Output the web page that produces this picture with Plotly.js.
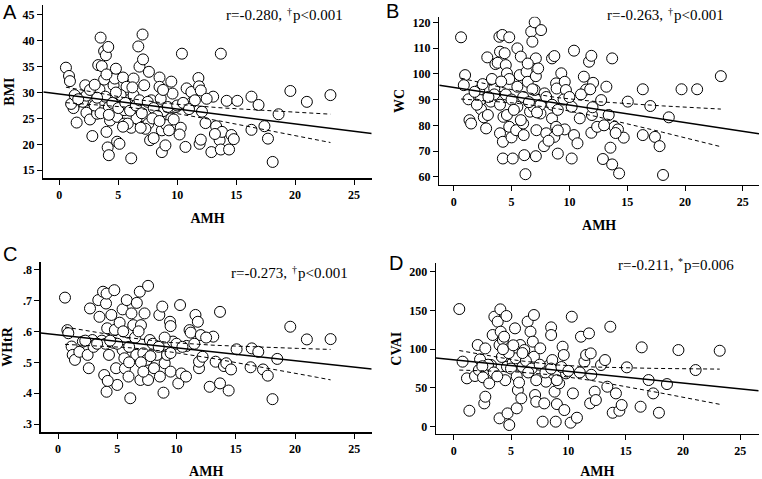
<!DOCTYPE html>
<html>
<head>
<meta charset="utf-8">
<script src="https://cdn.plot.ly/plotly-3.0.1.min.js"></script>
<style>html,body{margin:0;padding:0;background:#fff;}#chart{width:762px;height:479px;}</style>
</head>
<body>
<div id="chart"></div>
<script>
// ---------------- data ----------------
const amhA = [0.56,0.82,0.9,1.24,1.2,1.47,1.84,2.2,2.3,2.4,2.6,2.8,2.9,3.2,3.4,3.3,3.5,3.6,3.8,3.8,3.95,4.0,4.15,4.1,4.2,4.3,4.2,3.9,4.6,4.7,4.8,4.9,5.1,4.9,5.4,5.5,5.5,5.7,5.8,6.1,6.1,6.3,6.3,6.55,6.7,6.8,7.06,7.1,7.2,7.1,7.6,7.55,7.7,7.8,8.2,8.5,8.5,8.6,8.7,8.7,9.0,8.8,9.5,9.6,9.5,9.1,9.9,10.3,10.2,10.4,10.7,10.8,11.2,11.3,11.8,11.85,11.9,12.0,12.0,12.1,12.4,12.9,13.05,13.3,13.6,13.7,13.7,13.8,14.2,14.4,14.6,15.1,16.3,16.3,16.9,17.4,17.7,18.1,18.6,19.6,21.0,23.0,
  1.0,2.0,3.0,3.5,4.5,5.0,5.2,5.6,6.0,6.5,6.8,7.0,7.3,7.5,8.0,8.3,8.8,9.2,9.7,10.0,10.5,11.5,4.8,6.2,5.8,7.9,9.3,6.9,8.5,3.2,4.2,5.4,8.0,12.5,11.0,
  1.3,2.3,1.6,2.6,3.0,4.0,13.2,14.8];
const bmi = [34.8,33.2,32.2,27.5,27.0,24.2,28.8,31.4,26.1,28.5,24.8,21.6,29.2,25.9,30.6,35.3,40.6,35.1,32.5,38.0,37.2,22.4,38.8,19.4,17.9,24.6,27.2,29.2,31.4,32.7,34.6,20.5,20.1,25.3,32.9,26.6,24.0,31.1,28.5,17.3,23.2,32.7,29.5,25.0,38.9,35.0,41.2,36.4,31.4,23.4,34.0,24.0,20.8,28.5,26.0,32.9,31.1,28.8,22.7,18.5,19.8,26.4,32.1,29.8,25.0,23.7,27.2,23.2,21.9,37.5,19.5,30.8,30.1,28.2,32.8,31.2,20.1,20.9,30.4,26.3,24.1,18.5,29.2,23.5,20.8,37.5,19.0,22.4,28.4,19.0,21.8,28.4,22.8,29.2,27.6,23.5,21.1,16.6,25.8,30.3,28.2,29.5,
  27.8,28.2,27.5,26.0,28.0,27.0,29.5,28.0,26.5,27.5,28.5,26.0,23.0,28.2,27.0,25.5,30.5,27.2,24.8,27.5,28.0,28.5,30.0,31.0,24.0,25.0,22.7,23.2,24.5,29.0,25.7,23.4,21.2,28.8,26.8,
  29.5,29.4,28.7,30.5,31.5,33.5,22.0,21.0];

const amhB = [0.63,0.98,0.87,1.27,1.36,1.5,2.2,2.3,2.36,2.6,2.8,2.9,2.95,3.2,3.5,3.6,3.8,3.95,3.9,4.0,4.2,4.4,4.5,4.6,4.0,4.25,4.25,4.3,4.6,4.8,4.8,5.0,5.1,5.4,5.5,5.5,5.7,5.8,6.0,6.05,6.1,6.2,6.3,6.4,6.6,6.7,6.8,7.0,7.1,7.1,7.0,6.9,7.15,7.1,7.3,7.55,7.5,7.8,7.85,8.0,8.5,8.5,8.7,8.85,8.9,9.0,8.85,8.7,9.3,9.6,9.7,9.6,10.2,10.2,10.4,10.4,10.7,10.9,11.25,11.45,11.7,11.9,12.05,11.9,11.95,12.4,12.75,12.9,13.2,13.4,13.55,13.7,13.7,13.9,14.2,14.3,14.7,15.05,16.35,16.35,17.0,17.4,17.8,18.1,18.6,19.7,21.05,23.1,
  4.5,5.0,5.5,6.0,6.5,7.5,8.0,8.5,9.0,9.5,3.5,4.0,5.2,6.8,7.2,10.0,11.0,12.0,3.0,2.0,5.8,6.4,4.8,9.0,8.2,11.8,
  1.8,2.5,3.3,4.1,13.0,14.0];
const wc = [114.2,99.5,95.6,90.1,82.0,80.7,93.7,89.8,86.2,83.1,78.8,106.4,84.0,89.2,94.3,103.8,104.3,114.4,91.1,108.6,115.1,108.0,103.4,100.2,76.9,73.6,67.1,83.3,84.0,114.2,79.4,75.3,67.1,78.1,109.9,87.2,99.5,106.7,80.7,76.2,68.4,61.0,100.8,96.9,85.3,116.4,112.5,120.0,106.0,99.1,93.7,87.2,78.1,68.0,102.1,117.0,84.6,71.9,92.4,76.9,82.7,106.0,106.9,96.3,94.3,69.0,79.4,75.5,100.2,96.9,93.7,78.4,87.2,67.1,109.0,76.2,73.0,82.7,98.9,93.9,104.7,107.0,96.5,77.1,84.0,79.4,89.8,66.9,95.0,84.0,71.3,106.0,64.8,79.4,78.4,61.3,75.2,89.2,94.0,76.2,87.5,75.5,71.9,60.7,83.1,94.0,94.0,99.1,
  92,90,95,91,89,88,91,88,86,90,92,88,86,94,85,91,92,87,91,88,82,104,98,78,74,94,
  93,96,98,97,80,77];

const amhC = [0.59,0.79,0.87,1.15,1.24,1.43,1.8,2.1,2.5,2.6,2.7,2.9,3.1,3.4,3.5,3.7,3.8,3.9,4.05,4.1,4.1,4.15,4.3,4.5,4.7,4.75,4.9,5.0,4.8,5.2,5.45,5.45,5.6,5.65,5.8,5.9,5.95,6.1,6.2,6.35,6.6,6.65,6.9,7.0,6.95,7.2,7.3,7.35,7.5,7.6,7.6,7.75,8.1,8.35,8.55,8.6,8.8,8.9,9.0,9.2,9.45,9.5,9.5,9.7,10.15,10.3,10.4,10.8,10.85,11.1,11.2,11.6,11.8,11.9,11.9,12.05,12.2,12.8,13.1,13.3,13.67,13.67,14.0,14.2,14.4,14.6,15.07,16.25,16.35,16.9,17.3,17.7,18.1,18.5,19.6,21.0,23.0,
  4.0,5.0,6.0,6.5,7.0,8.0,8.5,9.0,9.5,10.0,3.0,5.5,6.8,7.8,11.5,12.5,4.4,3.3,2.3,10.5,7.2,6.0,4.2];
const whtr = [0.709,0.604,0.594,0.551,0.524,0.508,0.534,0.567,0.524,0.481,0.674,0.572,0.556,0.701,0.647,0.57,0.728,0.459,0.69,0.405,0.722,0.61,0.524,0.653,0.563,0.733,0.481,0.427,0.605,0.628,0.54,0.671,0.513,0.48,0.701,0.596,0.454,0.384,0.658,0.62,0.524,0.692,0.728,0.62,0.443,0.529,0.658,0.486,0.508,0.747,0.443,0.572,0.481,0.524,0.653,0.454,0.68,0.402,0.497,0.524,0.631,0.617,0.47,0.567,0.432,0.685,0.464,0.454,0.553,0.604,0.596,0.653,0.631,0.481,0.502,0.588,0.518,0.421,0.583,0.502,0.663,0.432,0.488,0.497,0.409,0.477,0.542,0.484,0.545,0.534,0.477,0.457,0.381,0.511,0.615,0.574,0.575,
  0.56,0.56,0.55,0.58,0.50,0.56,0.55,0.58,0.53,0.56,0.55,0.60,0.60,0.52,0.56,0.58,0.57,0.56,0.57,0.55,0.47,0.50,0.44];

const amhD = [0.49,0.78,1.16,1.37,1.86,2.1,2.2,2.3,2.56,2.67,2.76,2.76,3.1,3.25,3.4,3.55,3.84,4.0,4.0,4.07,4.1,4.3,4.4,4.6,4.65,4.7,4.85,5.15,5.35,5.4,5.5,5.6,5.8,5.9,6.0,6.16,6.45,6.7,6.9,7.0,7.0,7.1,7.2,7.3,7.55,7.76,7.9,8.05,8.35,8.5,8.5,8.6,8.8,8.9,9.0,9.2,9.5,9.6,9.65,9.8,10.2,10.3,10.4,10.75,11.1,11.4,11.55,11.8,11.9,11.95,12.3,12.4,12.85,13.2,13.4,13.66,13.87,14.15,14.45,14.65,15.1,16.3,16.4,17.0,17.4,17.9,18.6,19.6,21.1,23.2,
  3.0,3.5,4.2,4.8,5.0,5.5,6.3,6.8,7.5,8.0,8.5,9.0,9.4,10.0,4.5,5.7,6.5,7.2,3.8,2.5,11.0,12.0,4.3,5.2,6.0];
const cvai = [151.8,83.9,62.4,20.6,65.4,105.4,73.1,86.9,63.7,30.1,38.7,101.0,55.9,79.6,118.3,141.9,135.5,105.4,10.8,151.4,122.6,111.8,116.1,142.8,77.4,17.2,2.2,82.6,126.9,88.2,23.7,47.3,105.4,36.6,77.4,98.9,135.5,122.6,109.7,144.1,90.3,40.9,32.3,71.0,101.1,6.5,30.1,58.1,79.6,128.2,118.3,86.0,45.2,6.5,29.2,55.9,103.2,92.5,21.5,68.8,5.2,141.9,43.0,11.6,116.1,83.9,92.5,120.4,30.1,94.6,45.2,34.4,79.6,86.0,51.6,129.0,18.0,43.0,20.6,28.0,76.6,25.8,102.4,60.2,43.0,18.0,55.0,98.9,73.1,98.0,
  80,70,90,95,75,65,85,75,80,70,75,60,77,72,60,57,70,60,65,78,70,67,100,105,95];

const xTicks = [0,5,10,15,20,25];
const ticksA = [15,20,25,30,35,40,45];
const ticksB = [60,70,80,90,100,110,120];
const ticksC = [0.3,0.4,0.5,0.6,0.7,0.8];
const ticksCText = ['.3','.4','.5','.6','.7','.8'];
const ticksD = [0,50,100,150,200];
const xTitle = 'AMH';
const yTitles = ['BMI','WC','WHtR','CVAI'];
const panelLetters = ['A','B','C','D'];
const statR = ['r=-0.280,','r=-0.263,','r=-0.273,','r=-0.211,'];
const statMark = ['†','†','†','*'];
const statP = ['p<0.001','p<0.001','p<0.001','p=0.006'];

// ---------------- helpers ----------------
function fit(x, y) {
  const n = x.length;
  const mx = x.reduce((a,b)=>a+b,0)/n, my = y.reduce((a,b)=>a+b,0)/n;
  let sxx=0, sxy=0;
  for (let i=0;i<n;i++){ sxx+=(x[i]-mx)**2; sxy+=(x[i]-mx)*(y[i]-my); }
  const b = sxy/sxx, a = my - b*mx;
  let sse=0; for (let i=0;i<n;i++){ sse+=(y[i]-a-b*x[i])**2; }
  const s = Math.sqrt(sse/(n-2));
  return {a,b,s,n,mx,sxx};
}

const W=762,H=479;
const panels = [
  {x:amhA,y:bmi,xd:[43.3,371.7],yd:[5,178.3],xr:[-1.36,26.5],yr:[13.44,46.9],tv:ticksA,tt:null,xs:12,ys:4},
  {x:amhB,y:wc,xd:[439.3,759],yd:[16.7,185],xr:[-1.25,26.4],yr:[56.8,122.2],tv:ticksB,tt:null,xs:12,ys:4},
  {x:amhC,y:whtr,xd:[40.7,371.7],yd:[261.7,432.3],xr:[-1.46,26.47],yr:[0.274,0.825],tv:ticksC,tt:ticksCText,xs:12,ys:8},
  {x:amhD,y:cvai,xd:[436,758.7],yd:[263.3,434],xr:[-1.54,26.6],yr:[-9.4,210.8],tv:ticksD,tt:null,xs:12,ys:4}
];
const letterPos = [[1,12],[384,11],[1,254],[387,263]];
// [end of r-part, mark centre, start of p-part, y]
const statPos = [[284,289.5,291,15],[665,670.5,672,15],[289,294.5,296,273],[675,680.5,682,265]];

const traces=[]; const layout={width:W,height:H,margin:{l:0,r:0,t:0,b:0},showlegend:false,
  paper_bgcolor:'#fff',plot_bgcolor:'#fff',annotations:[]};
const tickFont={family:'Liberation Serif',size:12,color:'#000',weight:'bold'};
const titleFont={family:'Liberation Serif',size:14,color:'#000',weight:'bold'};
const statFont={family:'Liberation Serif',size:15,color:'#000'};

panels.forEach((p,k)=>{
  const xa = k===0?'x':'x'+(k+1), ya = k===0?'y':'y'+(k+1);
  const xk = k===0?'xaxis':'xaxis'+(k+1), yk = k===0?'yaxis':'yaxis'+(k+1);
  layout[xk]={domain:[p.xd[0]/W,p.xd[1]/W],range:p.xr,anchor:ya,showgrid:false,zeroline:false,
    showline:true,linecolor:'#000',linewidth:1.3,ticks:'outside',ticklen:5,tickwidth:1,tickcolor:'#000',
    tickvals:xTicks,tickfont:tickFont,automargin:false,
    title:{text:xTitle,font:titleFont,standoff:p.xs}};
  layout[yk]={domain:[1-p.yd[1]/H,1-p.yd[0]/H],range:p.yr,anchor:xa,showgrid:false,zeroline:false,
    showline:true,linecolor:'#000',linewidth:1.3,ticks:'outside',ticklen:5,tickwidth:1,tickcolor:'#000',
    tickvals:p.tv,tickfont:tickFont,automargin:false,
    title:{text:yTitles[k],font:titleFont,standoff:p.ys}};
  if(p.tt) layout[yk].ticktext=p.tt;
  traces.push({type:'scatter',mode:'markers',x:p.x,y:p.y,xaxis:xa,yaxis:ya,cliponaxis:true,
    marker:{size:11,color:'#fff',line:{color:'#000',width:1}}});
  const f=fit(p.x,p.y);
  const xmin=Math.min(...p.x), xmax=Math.max(...p.x);
  traces.push({type:'scatter',mode:'lines',x:[p.xr[0],p.xr[1]],y:[f.a+f.b*p.xr[0],f.a+f.b*p.xr[1]],
    xaxis:xa,yaxis:ya,line:{color:'#000',width:1.5}});
  const cx=[],up=[],lo=[]; const t=1.974;
  for(let i=0;i<=40;i++){const xv=xmin+(xmax-xmin)*i/40; const se=f.s*Math.sqrt(1/f.n+(xv-f.mx)**2/f.sxx);
    cx.push(xv); up.push(f.a+f.b*xv+t*se); lo.push(f.a+f.b*xv-t*se);}
  traces.push({type:'scatter',mode:'lines',x:cx,y:up,xaxis:xa,yaxis:ya,line:{color:'#000',width:1,dash:'4px,3px'}});
  traces.push({type:'scatter',mode:'lines',x:cx,y:lo,xaxis:xa,yaxis:ya,line:{color:'#000',width:1,dash:'4px,3px'}});

  layout.annotations.push({xref:'paper',yref:'paper',x:letterPos[k][0]/W,y:1-letterPos[k][1]/H,xanchor:'left',yanchor:'middle',
    text:panelLetters[k],showarrow:false,font:{family:'Liberation Sans',size:20,color:'#000'}});
  const sp=statPos[k];
  layout.annotations.push({xref:'paper',yref:'paper',x:sp[0]/W,y:1-sp[3]/H,xanchor:'right',yanchor:'middle',
    text:statR[k],showarrow:false,font:statFont});
  layout.annotations.push({xref:'paper',yref:'paper',x:sp[1]/W,y:1-(sp[3]-4)/H,xanchor:'center',yanchor:'middle',
    text:statMark[k],showarrow:false,font:{family:'Liberation Serif',size:10,color:'#000'}});
  layout.annotations.push({xref:'paper',yref:'paper',x:sp[2]/W,y:1-sp[3]/H,xanchor:'left',yanchor:'middle',
    text:statP[k],showarrow:false,font:statFont});
});

Plotly.newPlot('chart',traces,layout,{displayModeBar:false,staticPlot:true});
</script>
</body>
</html>
